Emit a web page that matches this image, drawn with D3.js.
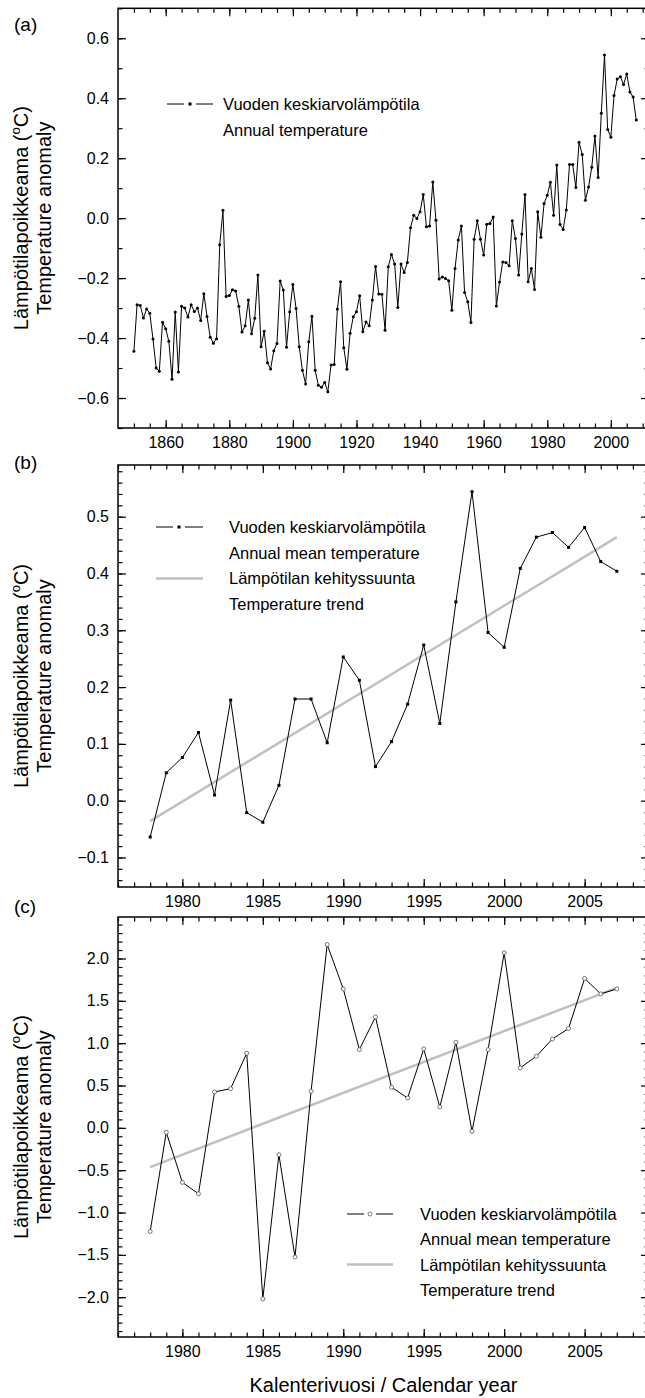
<!DOCTYPE html>
<html>
<head>
<meta charset="utf-8">
<script src="https://cdn.jsdelivr.net/npm/d3@7"></script>
<style>
body { margin: 0; background: #fff; }
svg text { font-family: "Liberation Sans", Arial, sans-serif; fill: #000; }
</style>
</head>
<body>
<svg id="chart" width="645" height="1398"></svg>
<script>
// annual global temperature anomaly, 1850-2008 (panel a)
var firstYearA = 1850;
var anomalyA = [
	-0.444, -0.289, -0.291, -0.333, -0.303, -0.317, -0.403, -0.500, -0.511, -0.347,
	-0.369, -0.411, -0.537, -0.313, -0.513, -0.294, -0.300, -0.330, -0.289, -0.311,
	-0.300, -0.341, -0.252, -0.328, -0.397, -0.417, -0.402, -0.089, 0.026, -0.261,
	-0.258, -0.239, -0.243, -0.294, -0.380, -0.359, -0.273, -0.386, -0.334, -0.190,
	-0.429, -0.377, -0.482, -0.503, -0.442, -0.418, -0.210, -0.240, -0.431, -0.312,
	-0.221, -0.301, -0.429, -0.507, -0.553, -0.412, -0.327, -0.507, -0.557, -0.564,
	-0.548, -0.579, -0.490, -0.488, -0.303, -0.212, -0.432, -0.504, -0.384, -0.329,
	-0.312, -0.259, -0.379, -0.346, -0.359, -0.273, -0.161, -0.253, -0.254, -0.374,
	-0.162, -0.121, -0.153, -0.298, -0.153, -0.181, -0.148, -0.032, 0.010, -0.001,
	0.021, 0.079, -0.029, -0.026, 0.121, -0.007, -0.203, -0.196, -0.201, -0.209,
	-0.307, -0.168, -0.073, -0.026, -0.248, -0.279, -0.348, -0.070, -0.009, -0.070,
	-0.123, -0.020, -0.018, 0.004, -0.293, -0.213, -0.146, -0.148, -0.159, -0.009,
	-0.068, -0.190, -0.053, 0.079, -0.212, -0.168, -0.238, 0.021,
	-0.064, 0.049, 0.076, 0.120, 0.010, 0.177, -0.021, -0.038, 0.027, 0.179,
	0.179, 0.102, 0.253, 0.212, 0.060, 0.104, 0.170, 0.274, 0.136, 0.350,
	0.544, 0.296, 0.270, 0.409, 0.464, 0.472, 0.446, 0.481, 0.421, 0.404,
	0.327
];

// panel b: the same series 1978-2007
var firstYearB = 1978;
var anomalyB = anomalyA.slice(1978 - firstYearA, 2008 - firstYearA);
var trendYears = [1978, 2007];
var trendB = [-0.036, 0.464];

// panel c: annual mean temperature anomaly, 1978-2007
var anomalyC = [
	-1.223, -0.053, -0.644, -0.778, 0.424, 0.463, 0.881, -2.019, -0.317, -1.526,
	0.432, 2.165, 1.641, 0.924, 1.310, 0.479, 0.353, 0.932, 0.247, 1.011,
	-0.041, 0.924, 2.067, 0.708, 0.846, 1.050, 1.173, 1.764, 1.582, 1.641
];
var trendC = [-0.463, 1.653];

// tick labels
var xTicksA = [1860, 1880, 1900, 1920, 1940, 1960, 1980, 2000];
var yTicksA = [-0.6, -0.4, -0.2, 0.0, 0.2, 0.4, 0.6];
var xTicksBC = [1980, 1985, 1990, 1995, 2000, 2005];
var yTicksB = [-0.1, 0.0, 0.1, 0.2, 0.3, 0.4, 0.5];
var yTicksC = [-2.0, -1.5, -1.0, -0.5, 0.0, 0.5, 1.0, 1.5, 2.0];

var legendA = ["Vuoden keskiarvolämpötila", "Annual temperature"];
var legendBC = ["Vuoden keskiarvolämpötila", "Annual mean temperature",
	"Lämpötilan kehityssuunta", "Temperature trend"];

var svg = d3.select("#chart");
var left = 118, right = 649;
var majorLen = 8, minorLen = 4.5;
var fmt = d3.format(".1f");

function toPoints(first, values) {
	return values.map(function(v, i) { return { year: first + i, value: v }; });
}

function drawPanel(p) {
	var x = d3.scaleLinear().domain(p.xDomain).range([left, right]);
	var y = d3.scaleLinear().domain(p.yDomain).range([p.bottom, p.top]);
	var g = svg.append("g");

	// minor + major ticks on all four sides
	function ticks(axisFn, scale, values, len, transform, labels) {
		var ax = axisFn(scale).tickValues(values).tickSizeInner(-len).tickSizeOuter(0).tickPadding(9);
		if (labels) ax.tickFormat(labels); else ax.tickFormat("");
		var a = g.append("g").attr("transform", transform).call(ax);
		a.select(".domain").remove();
		a.selectAll("line").attr("stroke", "#000").attr("stroke-width", 1.2);
		a.selectAll("text").attr("font-size", p.tickFont).attr("fill", "#000");
	}
	ticks(d3.axisBottom, x, p.xMinor, minorLen, "translate(0," + p.bottom + ")");
	ticks(d3.axisTop, x, p.xMinor, minorLen, "translate(0," + p.top + ")");
	ticks(d3.axisLeft, y, p.yMinor, minorLen, "translate(" + left + ",0)");
	ticks(d3.axisRight, y, p.yMinor, minorLen, "translate(" + right + ",0)");
	ticks(d3.axisBottom, x, p.xMajor, majorLen, "translate(0," + p.bottom + ")", d3.format("d"));
	ticks(d3.axisTop, x, p.xMajor, majorLen, "translate(0," + p.top + ")");
	ticks(d3.axisLeft, y, p.yMajor, majorLen, "translate(" + left + ",0)", fmt);
	ticks(d3.axisRight, y, p.yMajor, majorLen, "translate(" + right + ",0)");

	g.append("rect")
		.attr("x", left).attr("y", p.top)
		.attr("width", right - left).attr("height", p.bottom - p.top)
		.attr("fill", "none").attr("stroke", "#000").attr("stroke-width", 1.5);

	var line = d3.line()
		.x(function(d) { return x(d.year); })
		.y(function(d) { return y(d.value); });

	if (p.trend) {
		var tr = p.trend.map(function(v, i) { return { year: trendYears[i], value: v }; });
		g.append("path").datum(tr).attr("d", line)
			.attr("fill", "none").attr("stroke", "#c0c0c0").attr("stroke-width", 2.5);
	}

	g.append("path").datum(p.data).attr("d", line)
		.attr("fill", "none").attr("stroke", "#000").attr("stroke-width", 1);

	var m = g.selectAll(".pt").data(p.data).enter();
	if (p.marker === "dot") {
		m.append("circle").attr("cx", function(d) { return x(d.year); })
			.attr("cy", function(d) { return y(d.value); })
			.attr("r", 1.5).attr("fill", "#000");
	} else if (p.marker === "square") {
		m.append("rect").attr("x", function(d) { return x(d.year) - 1.5; })
			.attr("y", function(d) { return y(d.value) - 1.5; })
			.attr("width", 3).attr("height", 3).attr("fill", "#000");
	} else {
		m.append("circle").attr("cx", function(d) { return x(d.year); })
			.attr("cy", function(d) { return y(d.value); })
			.attr("r", 2).attr("fill", "#fff").attr("stroke", "#555").attr("stroke-width", 0.8);
	}

	// y axis title
	var cy = (p.top + p.bottom) / 2;
	var t1 = svg.append("text").attr("font-size", 20).attr("text-anchor", "middle")
		.attr("transform", "translate(28," + cy + ") rotate(-90)");
	t1.append("tspan").text("Lämpötilapoikkeama (");
	t1.append("tspan").attr("font-size", 13).attr("dy", -8).text("o");
	t1.append("tspan").attr("dy", 8).text("C)");
	svg.append("text").attr("font-size", 20).attr("text-anchor", "middle")
		.attr("transform", "translate(51," + cy + ") rotate(-90)")
		.text("Temperature anomaly");

	svg.append("text").attr("x", 14).attr("y", p.labelY).attr("font-size", 19).text(p.label);

	// legend
	var lg = p.legend;
	lg.rows.forEach(function(txt, i) {
		svg.append("text").attr("x", lg.textX).attr("y", lg.y + i * lg.step + 6)
			.attr("font-size", 16.5).text(txt);
	});
	var ly = lg.y;
	svg.append("line").attr("x1", lg.x0).attr("x2", lg.xm - 6).attr("y1", ly).attr("y2", ly)
		.attr("stroke", "#000").attr("stroke-width", 1);
	svg.append("line").attr("x1", lg.xm + 6).attr("x2", lg.x1).attr("y1", ly).attr("y2", ly)
		.attr("stroke", "#000").attr("stroke-width", 1);
	if (p.marker === "open") {
		svg.append("circle").attr("cx", lg.xm).attr("cy", ly).attr("r", 2)
			.attr("fill", "#fff").attr("stroke", "#555").attr("stroke-width", 0.8);
	} else {
		svg.append("rect").attr("x", lg.xm - 1.5).attr("y", ly - 1.5)
			.attr("width", 3).attr("height", 3).attr("fill", "#000");
	}
	if (lg.rows.length > 2) {
		var gy = ly + 2 * lg.step;
		svg.append("line").attr("x1", lg.x0).attr("x2", lg.x1).attr("y1", gy).attr("y2", gy)
			.attr("stroke", "#c0c0c0").attr("stroke-width", 2.5);
	}
}

drawPanel({
	top: 8.3, bottom: 428, xDomain: [1845, 2012], yDomain: [-0.7, 0.7],
	xMajor: xTicksA, xMinor: d3.range(1850, 2011, 5),
	yMajor: yTicksA, yMinor: d3.range(-0.7, 0.71, 0.1),
	tickFont: 16, data: toPoints(firstYearA, anomalyA), marker: "dot",
	label: "(a)", labelY: 31,
	legend: { x0: 167, x1: 213, xm: 190, textX: 223, y: 104, step: 26, rows: legendA }
});

drawPanel({
	top: 465, bottom: 887, xDomain: [1976, 2009], yDomain: [-0.152, 0.591],
	xMajor: xTicksBC, xMinor: d3.range(1976, 2010, 1),
	yMajor: yTicksB, yMinor: d3.range(-0.14, 0.59, 0.02),
	tickFont: 16, data: toPoints(firstYearB, anomalyB), marker: "square", trend: trendB,
	label: "(b)", labelY: 469,
	legend: { x0: 156, x1: 203, xm: 179, textX: 229, y: 527, step: 25.7, rows: legendBC }
});

drawPanel({
	top: 917, bottom: 1337, xDomain: [1976, 2009], yDomain: [-2.47, 2.49],
	xMajor: xTicksBC, xMinor: d3.range(1976, 2010, 1),
	yMajor: yTicksC, yMinor: d3.range(-2.4, 2.45, 0.1),
	tickFont: 16, data: toPoints(firstYearB, anomalyC), marker: "open", trend: trendC,
	label: "(c)", labelY: 913,
	legend: { x0: 347, x1: 393, xm: 370, textX: 420, y: 1214, step: 25.3, rows: legendBC }
});

svg.append("text").attr("x", (left + right) / 2).attr("y", 1392)
	.attr("text-anchor", "middle").attr("font-size", 20)
	.text("Kalenterivuosi / Calendar year");
</script>
</body>
</html>
